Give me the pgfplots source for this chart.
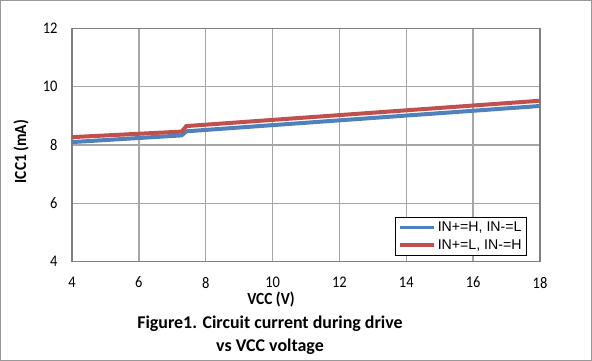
\documentclass[border=0pt]{standalone}
\usepackage{fontspec}
\setmainfont{Carlito}
\newfontfamily\arialfont{Liberation Sans}
\usepackage{graphicx}
\usepackage{pgfplots}
\pgfplotsset{compat=1.18}
\definecolor{exblue}{HTML}{4F81BD}
\definecolor{exred}{HTML}{C0504D}
\definecolor{gridgray}{HTML}{A6A6A6}
\begin{document}
\begin{tikzpicture}
\useasboundingbox (0,0) rectangle (592bp,361bp);
\draw[gray!80, line width=1bp] (0.75bp,0.75bp) rectangle (591.25bp,360.25bp);
\begin{axis}[
  at={(72bp,99.5bp)}, anchor=south west,
  scale only axis, width=468bp, height=233bp,
  xmin=4, xmax=18, ymin=4, ymax=12,
  xtick={4,6,...,18}, ytick={4,6,...,12},
  major tick length=0pt,
  grid=major,
  major grid style={gridgray, line width=1.3bp},
  axis line style={gray, line width=1.3bp},
  /pgf/number format/assume math mode=true,
  tick label style={font=\fontsize{14.5}{16}\selectfont},
  xticklabel={\scalebox{1}[1.12]{\pgfmathprintnumber{\tick}}},
  yticklabel={\scalebox{1}[1.12]{\pgfmathprintnumber{\tick}}},
  xticklabel style={yshift=-12bp},
  yticklabel style={xshift=-11bp},
  legend style={at={(0.972,0.024)}, anchor=south east, draw=black, line width=0.8bp,
    font=\arialfont\fontsize{14.2}{16}\selectfont, row sep=2bp, inner sep=3bp},
  legend cell align=left,
  legend image code/.code={\draw[#1, line width=3.5bp] (0bp,0bp) -- (34bp,0bp);},
]
\addplot[exblue, line width=4bp] coordinates {(4,8.10) (7.28,8.33) (7.42,8.47) (18,9.34)};
\addlegendentry{IN+=H, IN-=L}
\addplot[exred, line width=4bp] coordinates {(4,8.27) (7.28,8.46) (7.42,8.65) (18,9.52)};
\addlegendentry{IN+=L, IN-=H}
\end{axis}
\node[font=\bfseries\fontsize{15.5}{17}\selectfont, rotate=90] at (21bp,209.5bp) {\scalebox{1}[1.1]{ICC1 (mA)}};
\node[font=\bfseries\fontsize{15.5}{17}\selectfont] at (271bp,61.5bp) {\scalebox{1}[1.1]{VCC (V)}};
\node[font=\bfseries\fontsize{18}{23}\selectfont, align=center] at (270bp,26bp) {Figure1. Circuit current during drive\\ vs VCC voltage};
\end{tikzpicture}
\end{document}
